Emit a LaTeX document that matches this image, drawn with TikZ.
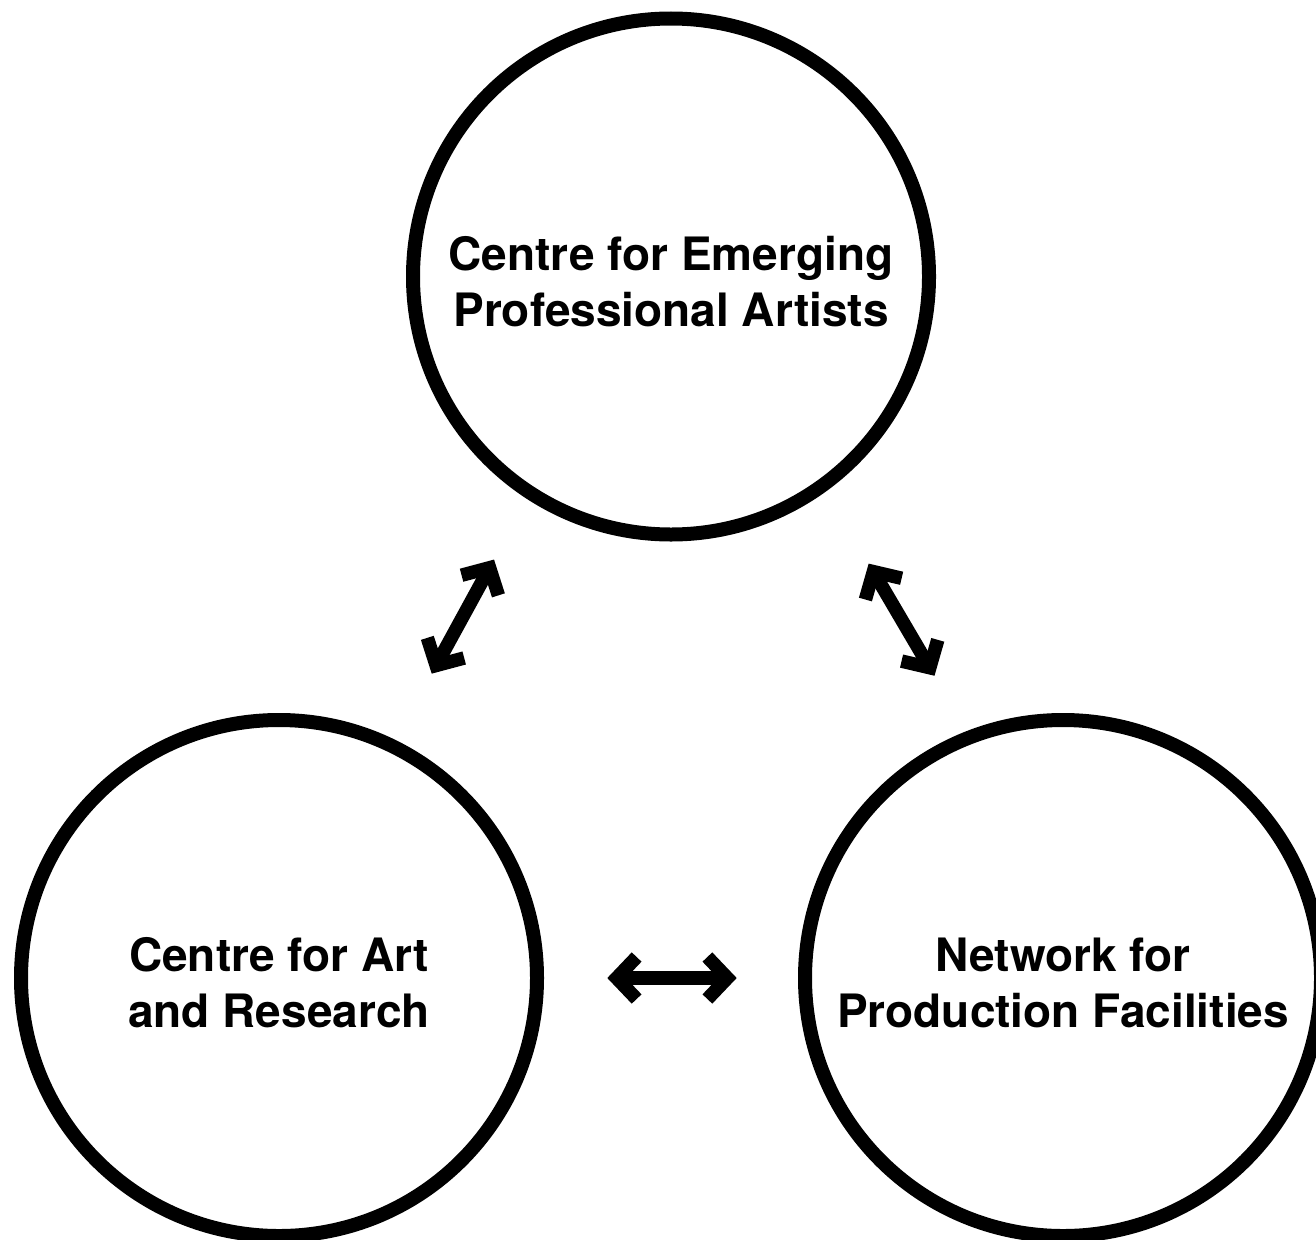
\documentclass[tikz,border=0pt]{standalone}
\usepackage{fontspec}
\setmainfont{TeX Gyre Heros}
\usetikzlibrary{arrows.meta}
\tikzset{
  ring/.style={circle, draw=black, line width=14pt, minimum size=516pt,
    inner sep=0pt, outer sep=0pt},
  caption/.style={align=center, inner sep=0pt, yshift=-5pt,
    font=\fontsize{46}{56}\selectfont\bfseries},
  link/.style={line width=13.5pt,
    {Straight Barb[length=20pt, width=42pt]}-{Straight Barb[length=20pt, width=42pt]}}
}
\begin{document}
\begin{tikzpicture}[x=1pt,y=-1pt]
\useasboundingbox (0,0) rectangle (1316,1239);
\clip (0,0) rectangle (1316,1239);
\fill[white] (0,0) rectangle (1316,1239);
\node[ring] (top) at (671,276.5) {};
\node[ring] (art) at (279,978) {};
\node[ring] (net) at (1063,978) {};
\node[caption] (toptext) at (top) {Centre for Emerging\\Professional Artists};
\node[caption] (arttext) at (art) {Centre for Art\\and Research};
\node[caption] (nettext) at (net) {Network for\\Production Facilities};
\draw[link, shorten <=82.6pt, shorten >=76pt] (art.64.4) -- (top.237.5);
\draw[link, shorten <=90.9pt, shorten >=71.2pt] (top.306.1) -- (net.111);
\draw[link, shorten <=70.3pt, shorten >=68.3pt] (art.-0.82) -- (net.180.82);
\end{tikzpicture}
\end{document}
